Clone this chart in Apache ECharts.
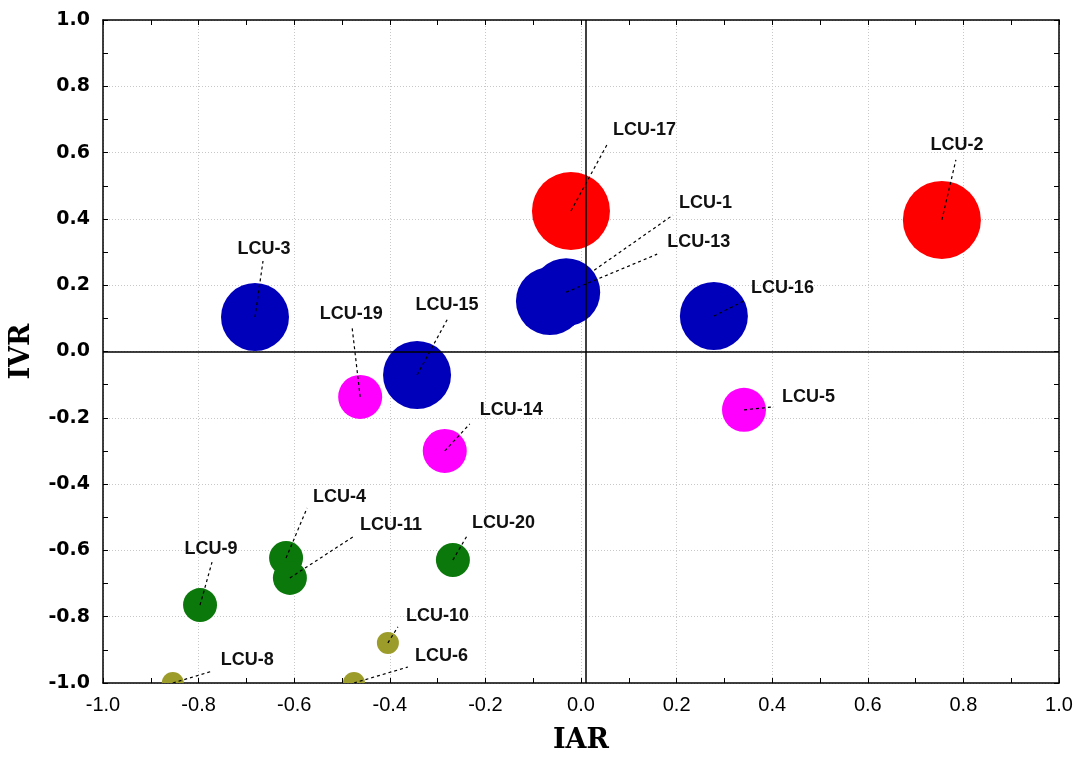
<!DOCTYPE html>
<html>
<head>
<meta charset="utf-8">
<script src="https://cdn.jsdelivr.net/npm/echarts@6/dist/echarts.min.js"></script>
<style>
html,body{margin:0;padding:0;background:#fff;}
#chart{width:1076px;height:760px;}
</style>
</head>
<body>
<div id="chart"></div>
<script>
// ---- data ----
const names = ['LCU-17','LCU-2','LCU-1','LCU-13','LCU-16','LCU-5','LCU-3','LCU-19','LCU-15','LCU-14','LCU-4','LCU-11','LCU-20','LCU-9','LCU-10','LCU-6','LCU-8'];
const iar   = [-0.021, 0.755, -0.065, -0.031, 0.278, 0.341, -0.682, -0.462, -0.343, -0.285, -0.617, -0.609, -0.268, -0.797, -0.404, -0.475, -0.854];
const ivr   = [0.424, 0.397, 0.152, 0.179, 0.107, -0.176, 0.104, -0.137, -0.071, -0.300, -0.623, -0.683, -0.629, -0.765, -0.879, -1.000, -1.000];
const group = [0, 0, 1, 1, 1, 2, 1, 2, 1, 2, 3, 3, 3, 3, 4, 4, 4];
const xTicks = [-1.0,-0.8,-0.6,-0.4,-0.2,0.0,0.2,0.4,0.6,0.8,1.0];
const yTicks = [-1.0,-0.8,-0.6,-0.4,-0.2,0.0,0.2,0.4,0.6,0.8,1.0];
const refX = 0.01, refY = 0;

// ---- styles ----
const groupColors = ['#ff0000', '#0000bb', '#ff00ff', '#0b780b', '#9c9c2a'];
const groupRadius = [39, 34, 22, 17, 11];
// label layout: [lineEndDx, lineEndDy, labelDx, labelDy, align]
const labelLayout = [
  [37,-68, 42,-81,'left'],
  [14,-60, 15,-75,'center'],
  [123,-86, 129,-98,'left'],
  [91,-38, 101,-50,'left'],
  [32,-16, 37,-28,'left'],
  [30,-3, 38,-13,'left'],
  [8,-56, 9,-68,'center'],
  [-8,-69, -9,-83,'center'],
  [31,-57, 30,-70,'center'],
  [25,-27, 35,-41,'left'],
  [21,-50, 27,-61,'left'],
  [63,-41, 70,-53,'left'],
  [14,-24, 19,-37,'left'],
  [12,-43, 11,-56,'center'],
  [10,-16, 18,-27,'left'],
  [54,-16, 61,-27,'left'],
  [40,-12, 48,-23,'left']
];

const data = names.map((n, i) => [iar[i], ivr[i], i]);

const chart = echarts.init(document.getElementById('chart'), null, {renderer: 'canvas'});

function fmt(v){ return v.toFixed(1); }

const axisCommon = {
  type: 'value', min: -1, max: 1, interval: 0.2,
  axisLine: {show: true, onZero: false, lineStyle: {color: '#000', width: 1.5}},
  axisTick: {show: true, inside: true, length: 5, lineStyle: {color: '#000'}},
  minorTick: {show: true, splitNumber: 2, length: 5, lineStyle: {color: '#000'}},
};

chart.setOption({
  animation: false,
  backgroundColor: '#fff',
  grid: {left: 103, right: 17, top: 20, bottom: 77, containLabel: false},
  xAxis: [
    Object.assign({}, axisCommon, {
      position: 'bottom',
      name: 'IAR', nameLocation: 'middle', nameGap: 44,
      nameTextStyle: {fontFamily: 'DejaVu Serif', fontWeight: 'bold', fontSize: 27, color: '#000'},
      axisLabel: {margin: 12, fontFamily: 'Liberation Sans', fontSize: 20, color: '#000',
        formatter: v => fmt(v)},
      splitLine: {show: true, lineStyle: {color: '#c8c8c8', type: [1, 2], width: 1}}
    }),
    Object.assign({}, axisCommon, {
      position: 'top', axisLabel: {show: false}, splitLine: {show: false}
    })
  ],
  yAxis: [
    Object.assign({}, axisCommon, {
      position: 'left',
      name: 'IVR', nameLocation: 'middle', nameGap: 68, nameRotate: 90,
      nameTextStyle: {fontFamily: 'DejaVu Serif', fontWeight: 'bold', fontSize: 27, color: '#000'},
      axisLabel: {margin: 13, fontFamily: 'DejaVu Sans', fontWeight: 'bold', fontSize: 19, color: '#000',
        formatter: v => fmt(v)},
      splitLine: {show: true, lineStyle: {color: '#c8c8c8', type: [1, 2], width: 1}}
    }),
    Object.assign({}, axisCommon, {
      position: 'right', axisLabel: {show: false}, splitLine: {show: false}
    })
  ],
  series: [{
    type: 'custom',
    clip: true,
    data: data,
    encode: {x: 0, y: 1},
    renderItem: function (params, api) {
      const i = api.value(2);
      const c = api.coord([api.value(0), api.value(1)]);
      const g = group[i];
      const L = labelLayout[i];
      return {
        type: 'group',
        children: [
          {type: 'circle', shape: {cx: c[0], cy: c[1], r: groupRadius[g]},
            style: {fill: groupColors[g]}},
          {type: 'line', shape: {x1: c[0], y1: c[1], x2: c[0] + L[0], y2: c[1] + L[1]},
            style: {stroke: '#000', lineWidth: 1.2, lineDash: [3, 3]}},
          {type: 'text', x: c[0] + L[2], y: c[1] + L[3],
            style: {text: names[i], fill: '#111', font: 'bold 18px "Liberation Sans", Arial, sans-serif',
              textAlign: L[4], textVerticalAlign: 'middle'}}
        ]
      };
    },
    z: 3
  }, {
    type: 'line',
    data: [],
    markLine: {
      silent: true, symbol: 'none', label: {show: false},
      lineStyle: {color: '#000', type: 'solid', width: 1.5},
      data: [{xAxis: refX}, {yAxis: refY}]
    },
    z: 2
  }]
});
</script>
</body>
</html>
